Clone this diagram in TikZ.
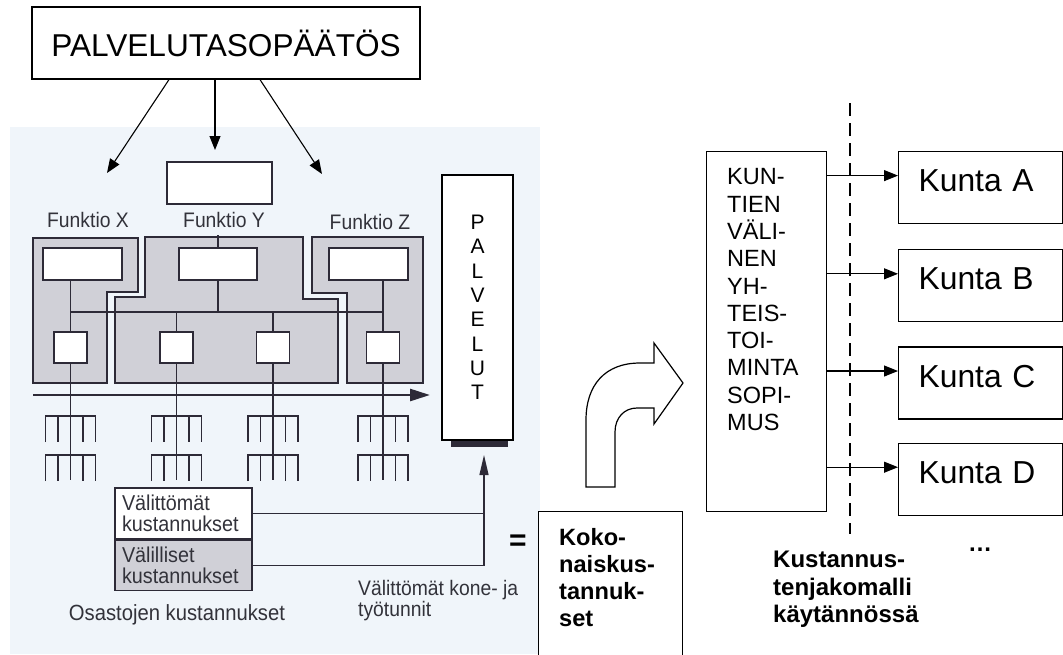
\documentclass[tikz,border=0pt]{standalone}
\usepackage{fontspec}
\setmainfont{Liberation Sans}
\newfontfamily\scanfont[FakeStretch=0.92]{Liberation Sans}
\usetikzlibrary{positioning,arrows.meta}
\definecolor{scanbg}{RGB}{240,245,250}
\definecolor{scanfill}{RGB}{208,208,215}
\definecolor{scanline}{RGB}{45,42,55}
\definecolor{scantext}{RGB}{50,50,58}

\begin{document}
\begin{tikzpicture}[x=1pt, y=-1pt,
        box/.style={draw, line width=1.2pt, fill=white, inner sep=0pt},
        kunta/.style={box, minimum width=164pt, minimum height=72pt, text width=124pt, align=left,
                      inner xsep=20pt, text height=22pt, text depth=14pt, font=\fontsize{31.8}{36}\selectfont},
        arrow/.style={-{Triangle[length=14pt,width=11pt]}, line width=1.1pt},
        region/.style={draw=scanline, fill=scanfill, line width=1.3pt},
        cell/.style={draw=scanline, fill=white, line width=1.3pt, inner sep=0pt},
        costbox/.style={cell, minimum width=137pt, text width=123pt, align=left, inner xsep=7pt,
                        text=scantext, font=\scanfont\fontsize{21.5}{20.5}\selectfont},
        scanlabel/.style={text=scantext, font=\scanfont\fontsize{21}{19.5}\selectfont, inner sep=0pt},
        wire/.style={draw=scanline, line width=1.2pt}
    ]
        \useasboundingbox (0,0) rectangle (1063,654);
        \clip (0,0) rectangle (1063,654);

        % skannattu kuva
        \fill[scanbg] (10,127) rectangle (540,654);
        \draw[region] (33,238) -- (138,238) -- (138,292) -- (107,292) -- (107,383) -- (33,383) -- cycle;
        \draw[region] (145,237) -- (303,237) -- (303,299) -- (338,299) -- (338,383) -- (115,383) -- (115,297) -- (145,297) -- cycle;
        \draw[region] (312,237) -- (423,237) -- (423,383) -- (347,383) -- (347,293) -- (312,293) -- cycle;

        \node[cell, minimum width=105pt, minimum height=42pt] (yhead) at (219.5,183) {};
        \node[cell, minimum width=79pt, minimum height=32pt] (tx) at (82.5,264) {};
        \node[cell, minimum width=78pt, minimum height=32pt] (ty) at (218,264) {};
        \node[cell, minimum width=79pt, minimum height=32pt] (tz) at (368.5,264) {};
        \node[cell, minimum width=33pt, minimum height=31pt] (sx) at (70.5,347.5) {};
        \node[cell, minimum width=33pt, minimum height=31pt] (sy1) at (176.5,347.5) {};
        \node[cell, minimum width=33pt, minimum height=31pt] (sy2) at (273,347.5) {};
        \node[cell, minimum width=33pt, minimum height=31pt] (sz) at (383,347.5) {};

        \node[scanlabel] (fx) at (88,220) {Funktio X};
        \node[scanlabel] (fy) at (224,220) {Funktio Y};
        \node[scanlabel] (fz) at (370,222) {Funktio Z};

        \coordinate (bus) at (0,312);
        \coordinate (combbase) at (0,480);
        \draw[wire] (sx.north |- tx.south) -- (sx.north);
        \draw[wire] (sx.north |- bus) -- (sz.north |- bus);
        \draw[wire] (ty.south) -- (ty.south |- bus);
        \draw[wire] (sy1.north |- bus) -- (sy1.north);
        \draw[wire] (sy2.north |- bus) -- (sy2.north);
        \draw[wire] (sz.north |- tz.south) -- (sz.north);
        \draw[wire] (ty.north) -- ++(0,-12);

        % kammat
        \foreach \cx in {70.5,176.5,273,383}{
            \foreach \cy in {416,455}{
                \draw[wire] (\cx-25,\cy+26) |- (\cx+25,\cy) -- (\cx+25,\cy+26);
                \draw[wire] (\cx-12.5,\cy) -- (\cx-12.5,\cy+26) (\cx+12.5,\cy) -- (\cx+12.5,\cy+26);
            }
        }
        \foreach \s in {sx,sy1,sy2,sz}
            \draw[wire] (\s.south) -- (\s.south |- combbase);

        \coordinate (flowstart) at (33,395);
        \coordinate (flowend) at (430,395);
        \draw[scanline, line width=2.6pt, -{Triangle[length=20pt,width=12pt]}] (flowstart) -- (flowend);

        \node[costbox, minimum height=51pt] (vk) at (183.5,513.5) {Välittömät\\kustannukset};
        \node[costbox, fill=scanfill, minimum height=50pt, below=0pt of vk] (vl) {Välilliset\\kustannukset};
        \node[scanlabel, font=\scanfont\fontsize{22}{20}\selectfont] (osastot) at (177,615) {Osastojen kustannukset};
        \node[scanlabel, anchor=north west, align=left] (tunnit) at (358,580) {Välittömät kone- ja\\työtunnit};

        \node[box, minimum width=71pt, minimum height=265pt, align=center,
              font=\fontsize{21}{24.3}\selectfont] (palv) at (477.5,307.5) {P\\A\\L\\V\\E\\L\\U\\T};
        \fill[scanline] ([xshift=10pt]palv.south west) rectangle ([xshift=-6pt,yshift=-6pt]palv.south east);

        \coordinate (tuntitip) at (484,455);
        \draw[wire, -{Triangle[length=20pt,width=9pt]}] (vl.east) -| (tuntitip);
        \draw[wire] (vk.east) -- (vk.east -| tuntitip);

        \node[font=\bfseries\fontsize{30}{30}\selectfont, inner sep=0pt] (equals) at (518,543) {=};

        % palvelutasopäätös
        \node[box, minimum width=388pt, minimum height=72pt, font=\fontsize{31.6}{36}\selectfont] (paatos) at (226,43) {PALVELUTASOPÄÄTÖS};
        \coordinate (tox) at (107,173);
        \coordinate (toy) at (215,150);
        \coordinate (toz) at (322,174);
        \draw[arrow] ([xshift=-57pt]paatos.south) -- (tox);
        \draw[arrow] ([xshift=-11pt]paatos.south) -- (toy);
        \draw[arrow] ([xshift=34pt]paatos.south) -- (toz);

        % kokonaiskustannukset ja kuntien jako
        \draw[line width=1.2pt, fill=white] (586,487) -- (586,420) .. controls (586,385) and (605,363) .. (640,363)
            -- (654,363) -- (654,343) -- (683,383) -- (654,424) -- (654,408) -- (637,408)
            .. controls (624,408) and (615,418) .. (615,432) -- (615,487) -- cycle;

        \node[box, anchor=north west, minimum width=144pt, minimum height=170pt] (koko) at (538,511) {};
        \node[anchor=north west, align=left, inner sep=0pt, font=\bfseries\fontsize{23.6}{27}\selectfont]
            (kokotxt) at ([shift={(21,17.5)}]koko.north west) {Koko-\\naiskus-\\tannuk-\\set};

        \node[box, anchor=north west, minimum width=120pt, minimum height=360pt] (sopimus) at (706,151) {};
        \node[anchor=north west, align=left, inner sep=0pt, font=\fontsize{23.5}{27.3}\selectfont]
            (sopimustxt) at ([shift={(21,17.5)}]sopimus.north west) {KUN-\\TIEN\\VÄLI-\\NEN\\YH-\\TEIS-\\TOI-\\MINTA\\SOPI-\\MUS};

        \node[kunta, anchor=north west] (kA) at (898,151) {Kunta A};
        \node[kunta, below=25pt of kA] (kB) {Kunta B};
        \node[kunta, below=24pt of kB] (kC) {Kunta C};
        \node[kunta, below=23pt of kC] (kD) {Kunta D};

        \foreach \k in {kA,kB,kC,kD}{
            \path ([yshift=12pt]\k.west) coordinate (\k-in);
            \draw[arrow] (sopimus.east |- \k-in) -- (\k-in);
        }

        \coordinate (cuttop) at (850,103);
        \coordinate (cutbot) at (850,534);
        \draw[dash pattern=on 13pt off 7pt, line width=1.1pt] (cuttop) -- (cutbot);

        \node[anchor=north west, align=left, inner sep=0pt, font=\bfseries\fontsize{24}{27.5}\selectfont]
            (malli) at (773,551) {Kustannus-\\tenjakomalli\\käytännössä};
        \node[anchor=base, inner sep=0pt, font=\bfseries\fontsize{24}{24}\selectfont] (lisaa) at (980,551) {…};
    \end{tikzpicture}
\end{document}
